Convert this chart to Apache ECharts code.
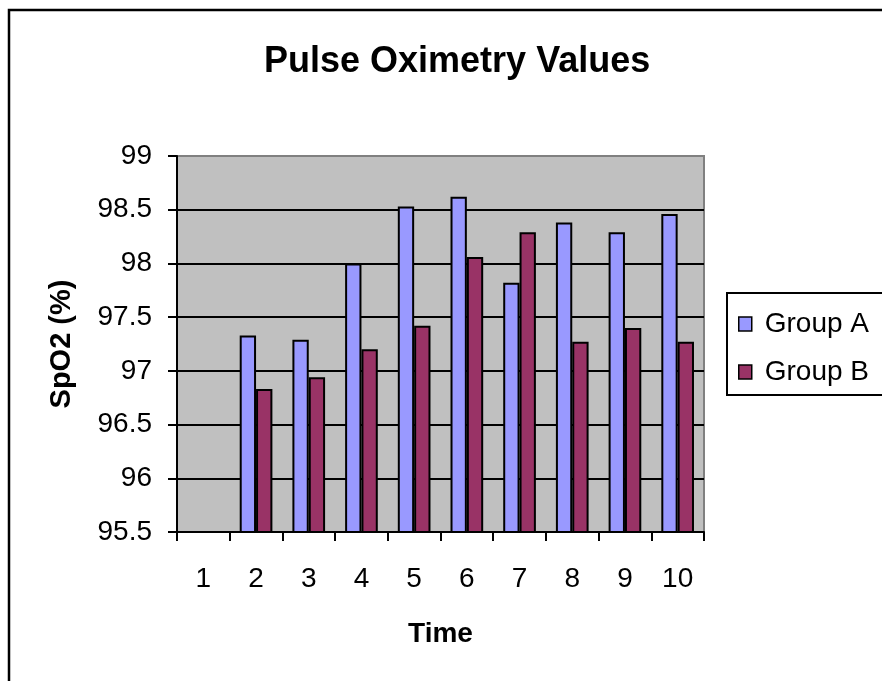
<!DOCTYPE html>
<html>
<head>
<meta charset="utf-8">
<script src="https://cdn.jsdelivr.net/npm/echarts@6/dist/echarts.min.js"></script>
<style>
html,body{margin:0;padding:0;background:#fff;}
#chart{width:882px;height:681px;}
</style>
</head>
<body>
<div id="chart"></div>
<script>
const categories = ['1','2','3','4','5','6','7','8','9','10'];
const groupA = [null, 97.33, 97.29, 98.00, 98.53, 98.62, 97.82, 98.38, 98.29, 98.46];
const groupB = [null, 96.83, 96.94, 97.20, 97.42, 98.06, 98.29, 97.27, 97.40, 97.27];
const seriesNames = ['Group A', 'Group B'];
const titleText = 'Pulse Oximetry Values';
const xName = 'Time';
const yName = 'SpO2 (%)';

const FONT = '"Liberation Sans", Arial, sans-serif';
const chart = echarts.init(document.getElementById('chart'), null, {renderer: 'canvas'});
chart.setOption({
  backgroundColor: '#ffffff',
  animation: false,
  title: {
    text: titleText,
    left: 259, top: 39,
    textStyle: {fontFamily: FONT, fontSize: 36, fontWeight: 'bold', color: '#000'}
  },
  graphic: [
    {type: 'rect', shape: {x: 9, y: 10, width: 1000, height: 1000},
     style: {fill: 'none', stroke: '#000', lineWidth: 2.5}, z: 100, silent: true},
    {type: 'rect', shape: {x: 727, y: 293, width: 200, height: 102},
     style: {fill: '#fff', stroke: '#000', lineWidth: 2}, z: 1, silent: true}
  ],
  legend: {
    data: seriesNames,
    orient: 'vertical',
    left: 733, top: 305,
    itemWidth: 13, itemHeight: 14,
    itemGap: 20,
    icon: 'rect',
    itemStyle: {borderColor: '#000', borderWidth: 1.5},
    textStyle: {fontFamily: FONT, fontSize: 28, color: '#000', padding: [0, 0, 0, 8]},
    z: 5
  },
  grid: {
    left: 177, top: 156, width: 527, height: 376,
    show: true, backgroundColor: '#C0C0C0',
    borderColor: '#808080', borderWidth: 2
  },
  xAxis: {
    type: 'category',
    data: categories,
    name: xName,
    nameLocation: 'middle',
    nameGap: 88,
    nameTextStyle: {fontFamily: FONT, fontSize: 28, fontWeight: 'bold', color: '#000'},
    axisLine: {lineStyle: {color: '#000', width: 2}},
    axisTick: {show: true, length: 9, lineStyle: {color: '#000', width: 2}},
    axisLabel: {fontFamily: FONT, fontSize: 28, color: '#000', margin: 33},
    splitLine: {show: false}
  },
  yAxis: {
    type: 'value',
    min: 95.5, max: 99, interval: 0.5,
    name: yName,
    nameLocation: 'middle',
    nameRotate: 90,
    nameGap: 101,
    nameTextStyle: {fontFamily: FONT, fontSize: 29, fontWeight: 'bold', color: '#000'},
    axisLine: {show: true, lineStyle: {color: '#000', width: 2}},
    axisTick: {show: true, length: 9, lineStyle: {color: '#000', width: 2}},
    axisLabel: {fontFamily: FONT, fontSize: 28, color: '#000', margin: 25},
    splitLine: {show: true, showMaxLine: false, showMinLine: false, lineStyle: {color: '#000', width: 2}}
  },
  series: [
    {name: seriesNames[0], type: 'bar', data: groupA,
     barGap: '0%', barCategoryGap: '38%',
     itemStyle: {color: '#9999FF', borderColor: '#000', borderWidth: 2}},
    {name: seriesNames[1], type: 'bar', data: groupB,
     barGap: '0%', barCategoryGap: '38%',
     itemStyle: {color: '#993366', borderColor: '#000', borderWidth: 2}}
  ]
});
</script>
</body>
</html>
